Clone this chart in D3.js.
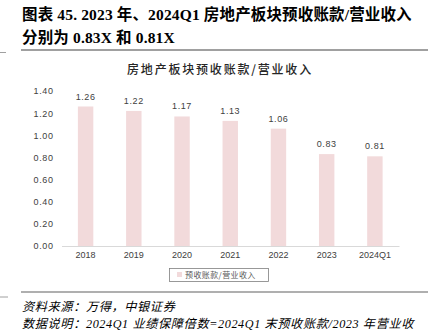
<!DOCTYPE html>
<html>
<head>
<meta charset="utf-8">
<script src="https://cdn.jsdelivr.net/npm/d3@7"></script>
<style>
  html, body { margin: 0; padding: 0; background: #fff; }
  svg { display: block; }
</style>
</head>
<body>
<svg id="chart" width="437" height="331"></svg>
<script>
// Data
const categories = ["2018", "2019", "2020", "2021", "2022", "2023", "2024Q1"];
const ratioValues = [1.26, 1.22, 1.17, 1.13, 1.06, 0.83, 0.81];
const yTickValues = [0, 0.2, 0.4, 0.6, 0.8, 1.0, 1.2, 1.4];
const seriesName = "预收账款/营业收入";
const chartTitle = "房地产板块预收账款/营业收入";
const headLine1 = "图表 45. 2023 年、2024Q1 房地产板块预收账款/营业收入";
const headLine2 = "分别为 0.83X 和 0.81X";
const sourceNote = "资料来源：万得，中银证券";
const dataNote = "数据说明：2024Q1 业绩保障倍数=2024Q1 末预收账款/2023 年营业收";

const svg = d3.select("#chart");
const cjkSans = "'Noto Sans CJK SC', 'Noto Sans', sans-serif";
const headFont = "'Liberation Serif', 'Noto Sans CJK SC', serif";

// Heading
const head = svg.append("g")
  .attr("font-family", headFont)
  .attr("font-weight", "bold")
  .attr("font-size", 15.5)
  .attr("letter-spacing", 0.15)
  .attr("fill", "#000");
head.append("text").attr("x", 22).attr("y", 20).text(headLine1);
head.append("text").attr("x", 22).attr("y", 43).text(headLine2);

// Rules above and below the chart
svg.append("line").attr("x1", 21).attr("x2", 428).attr("y1", 50).attr("y2", 50)
  .attr("stroke", "#808080").attr("stroke-width", 1.5);
svg.append("line").attr("x1", 0).attr("x2", 6).attr("y1", 52.5).attr("y2", 52.5)
  .attr("stroke", "#a0a0a0").attr("stroke-width", 1);
svg.append("line").attr("x1", 21).attr("x2", 428).attr("y1", 292).attr("y2", 292)
  .attr("stroke", "#606060").attr("stroke-width", 1.2);
svg.append("line").attr("x1", 0).attr("x2", 8).attr("y1", 297).attr("y2", 297)
  .attr("stroke", "#a0a0a0").attr("stroke-width", 1);

// Plot area
const plot = { left: 61.5, right: 399, top: 91, bottom: 246 };

const x = d3.scaleBand()
  .domain(categories)
  .range([plot.left, plot.right])
  .paddingInner(0.68)
  .paddingOuter(0.34);

const y = d3.scaleLinear()
  .domain([0, 1.4])
  .range([plot.bottom, plot.top]);

// Chart title
svg.append("text")
  .attr("x", 220).attr("y", 74)
  .attr("text-anchor", "middle")
  .attr("font-family", cjkSans)
  .attr("font-size", 12)
  .attr("font-weight", 500)
  .attr("letter-spacing", 1.8)
  .attr("fill", "#262626")
  .text(chartTitle);

// Bars
svg.append("g").selectAll("rect")
  .data(categories.map((c, i) => ({ c, v: ratioValues[i] })))
  .join("rect")
  .attr("x", d => x(d.c))
  .attr("width", x.bandwidth())
  .attr("y", d => y(d.v))
  .attr("height", d => y(0) - y(d.v))
  .attr("fill", "#f2dadb");

// Value labels
svg.append("g").selectAll("text")
  .data(categories.map((c, i) => ({ c, v: ratioValues[i] })))
  .join("text")
  .attr("x", d => x(d.c) + x.bandwidth() / 2)
  .attr("y", d => y(d.v) - 7)
  .attr("text-anchor", "middle")
  .attr("font-family", "'Liberation Sans', Arial, sans-serif")
  .attr("font-size", 9)
  .attr("letter-spacing", 0.6)
  .attr("fill", "#404040")
  .text(d => d.v.toFixed(2));

// Y axis (labels only)
const yAxis = svg.append("g")
  .attr("transform", `translate(${plot.left},0)`)
  .call(d3.axisLeft(y).tickValues(yTickValues).tickFormat(d3.format(".2f")).tickSize(0).tickPadding(8));
yAxis.select(".domain").remove();
yAxis.selectAll("text")
  .attr("font-family", "'Liberation Sans', Arial, sans-serif")
  .attr("font-size", 9)
  .attr("letter-spacing", 0.6)
  .attr("fill", "#404040");

// X axis
const xAxis = svg.append("g")
  .attr("transform", `translate(0,${plot.bottom})`)
  .call(d3.axisBottom(x).tickSize(0).tickPadding(6));
xAxis.select(".domain").attr("stroke", "#d9d9d9").attr("stroke-width", 1);
xAxis.selectAll("text")
  .attr("font-family", "'Liberation Sans', Arial, sans-serif")
  .attr("font-size", 9)
  .attr("fill", "#404040");

// Legend
const legend = svg.append("g");
legend.append("rect")
  .attr("x", 169.5).attr("y", 268.5).attr("width", 99).attr("height", 13)
  .attr("fill", "#fff").attr("stroke", "#7f7f7f").attr("stroke-width", 0.8);
legend.append("rect")
  .attr("x", 177).attr("y", 272).attr("width", 5).attr("height", 5)
  .attr("fill", "#f2dadb");
legend.append("text")
  .attr("x", 185).attr("y", 278)
  .attr("font-family", cjkSans)
  .attr("font-size", 8)
  .attr("letter-spacing", 0.4)
  .attr("fill", "#595959")
  .text(seriesName);

// Footnotes
const foot = svg.append("g")
  .attr("font-family", "'Liberation Serif', 'Noto Sans CJK SC', serif")
  .attr("font-style", "italic")
  .attr("font-size", 12.2)
  .attr("letter-spacing", 0.6)
  .attr("fill", "#000");
foot.append("text").attr("x", 22).attr("y", 311).text(sourceNote);
foot.append("text").attr("x", 22).attr("y", 328).text(dataNote);
</script>
</body>
</html>
